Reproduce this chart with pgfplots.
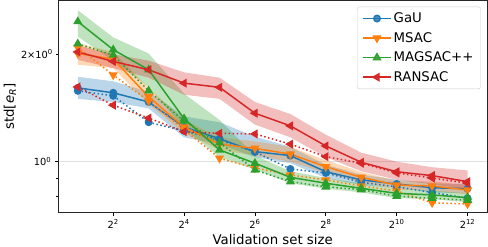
\documentclass[border=0pt]{standalone}
\usepackage{fontspec}
\setmainfont{DejaVu Sans}
\usepackage{pgfplots}
\pgfplotsset{compat=1.18}
\usepackage{pgfplotstable}
\usepgfplotslibrary{fillbetween}
\definecolor{c1}{HTML}{1F77B4}
\definecolor{c2}{HTML}{FF7F0E}
\definecolor{c3}{HTML}{2CA02C}
\definecolor{c4}{HTML}{D62728}

\pgfplotstableread{
x    gau   gaud  gaulo gauhi msac  msacd msaclo msachi mag   magd  maglo maghi ran   rand  ranlo ranhi
2    1.61  1.58  1.50  1.73  2.01  2.09  1.87   2.15   2.47  2.14  2.24  2.66  2.03  1.62  1.93  2.12
4    1.56  1.53  1.47  1.68  1.94  1.75  1.83   2.03   2.06  1.99  1.92  2.23  1.91  1.44  1.83  2.00
8    1.47  1.29  1.41  1.57  1.52  1.48  1.45   1.61   1.81  1.58  1.62  2.01  1.81  1.325 1.72  1.92
16   1.25  1.22  1.17  1.34  1.25  1.23  1.20   1.31   1.32  1.30  1.24  1.55  1.66  1.214 1.54  1.78
32   1.16  1.15  1.12  1.29  1.12  1.022 1.08   1.17   1.079 1.131 1.03  1.31  1.616 1.201 1.50  1.72
64   1.067 1.065 1.03  1.175 1.09  0.96  1.04   1.14   0.99  0.948 0.95  1.04  1.367 1.196 1.27  1.47
128  1.04  0.954 0.99  1.10  1.05  0.918 1.00   1.10   0.904 0.879 0.87  0.94  1.26  1.12  1.17  1.36
256  0.937 0.93  0.90  0.98  0.968 0.889 0.93   1.01   0.87  0.85  0.84  0.90  1.107 1.033 1.03  1.19
512  0.889 0.875 0.86  0.92  0.904 0.855 0.875  0.935  0.842 0.835 0.82  0.87  0.996 0.99  0.94  1.06
1024 0.866 0.85  0.845 0.89  0.86  0.828 0.835  0.885  0.815 0.80  0.79  0.84  0.937 0.93  0.89  1.00
2048 0.845 0.82  0.82  0.87  0.855 0.767 0.83   0.88   0.807 0.79  0.785 0.83  0.914 0.90  0.865 0.965
4096 0.84  0.79  0.815 0.865 0.833 0.761 0.81   0.86   0.793 0.78  0.77  0.815 0.879 0.87  0.835 0.945
}\data

\begin{document}
\begin{tikzpicture}
\begin{axis}[
  scale only axis, width=428.7bp, height=212.2bp,
  xmode=log, log basis x=2, ymode=log,
  xmin=1.366, xmax=5994, ymin=0.7195, ymax=2.83,
  xtick={4,16,64,256,1024,4096},
  xticklabels={2\textsuperscript{2},2\textsuperscript{4},2\textsuperscript{6},2\textsuperscript{8},2\textsuperscript{10},2\textsuperscript{12}},
  xminorticks=false,
  ytick={1}, yticklabels={10\textsuperscript{0}},
  minor ytick={0.8,0.9},
  extra y ticks={2}, extra y tick labels={2×10\textsuperscript{0}},
  extra y tick style={grid=none, major tick length=2bp},
  ymajorgrids, major grid style={black!12, line width=0.8bp},
  tick align=outside, major tick length=3.5bp, minor tick length=2bp,
  tick pos=left,
  axis line style={line width=0.8bp, black!85},
  tick style={line width=0.8bp, black},
  ticklabel style={font=\fontsize{9.8bp}{11bp}\selectfont},
  label style={font=\fontsize{13.3bp}{16bp}\selectfont},
  xlabel={Validation set size},
  xlabel style={at={(axis description cs:0.5,-0.1475)}, anchor=base},
  ylabel={std[\textit{e}\textsubscript{\textit{R}}]},
  ylabel style={at={(axis description cs:-0.1127,0.5)}, anchor=center},
  legend style={at={(0.9853,0.971)}, anchor=north east, draw=black!20, rounded corners=2bp,
    font=\fontsize{13.3bp}{16bp}\selectfont, row sep=4.2bp, inner xsep=5bp, inner ysep=4bp,
    fill opacity=0.8, text opacity=1, draw opacity=1},
  legend cell align=left,
  legend image code/.code={\draw[mark repeat=2,mark phase=2,#1] plot coordinates {(0bp,0bp) (14bp,0bp) (28bp,0bp)};},
  sline/.style={line width=1.5bp},
  dline/.style={line width=1.5bp, dash pattern=on 1.5bp off 2.5bp},
]
% GaU
\addplot[draw=none, name path=gh, forget plot] table[x=x,y=gauhi]{\data};
\addplot[draw=none, name path=gl, forget plot] table[x=x,y=gaulo]{\data};
\addplot[c1, fill opacity=0.3, draw=none, forget plot] fill between[of=gh and gl];
\addplot[c1, sline, mark=*, mark size=3.2bp] table[x=x,y=gau]{\data};
\addlegendentry{GaU}
\addplot[c1, dline, mark=*, mark size=3.2bp, mark options={solid}, forget plot] table[x=x,y=gaud]{\data};
% MSAC
\addplot[draw=none, name path=mh, forget plot] table[x=x,y=msachi]{\data};
\addplot[draw=none, name path=ml, forget plot] table[x=x,y=msaclo]{\data};
\addplot[c2, fill opacity=0.3, draw=none, forget plot] fill between[of=mh and ml];
\addplot[c2, sline, mark=triangle*, mark size=3.8bp, mark options={rotate=180}] table[x=x,y=msac]{\data};
\addlegendentry{MSAC}
\addplot[c2, dline, mark=triangle*, mark size=3.8bp, mark options={solid, rotate=180}, forget plot] table[x=x,y=msacd]{\data};
% MAGSAC++
\addplot[draw=none, name path=ah, forget plot] table[x=x,y=maghi]{\data};
\addplot[draw=none, name path=al, forget plot] table[x=x,y=maglo]{\data};
\addplot[c3, fill opacity=0.3, draw=none, forget plot] fill between[of=ah and al];
\addplot[c3, sline, mark=triangle*, mark size=3.8bp] table[x=x,y=mag]{\data};
\addlegendentry{MAGSAC++}
\addplot[c3, dline, mark=triangle*, mark size=3.8bp, mark options={solid}, forget plot] table[x=x,y=magd]{\data};
% RANSAC
\addplot[draw=none, name path=rh, forget plot] table[x=x,y=ranhi]{\data};
\addplot[draw=none, name path=rl, forget plot] table[x=x,y=ranlo]{\data};
\addplot[c4, fill opacity=0.3, draw=none, forget plot] fill between[of=rh and rl];
\addplot[c4, sline, mark=triangle*, mark size=3.8bp, mark options={rotate=90}] table[x=x,y=ran]{\data};
\addlegendentry{RANSAC}
\addplot[c4, dline, mark=triangle*, mark size=3.8bp, mark options={solid, rotate=90}, forget plot] table[x=x,y=rand]{\data};
\end{axis}
\pgfresetboundingbox
\path[use as bounding box] ([shift={(-58.3bp,-34.3bp)}]current axis.south west) rectangle ([shift={(1bp,0.5bp)}]current axis.north east);
\end{tikzpicture}
\end{document}
